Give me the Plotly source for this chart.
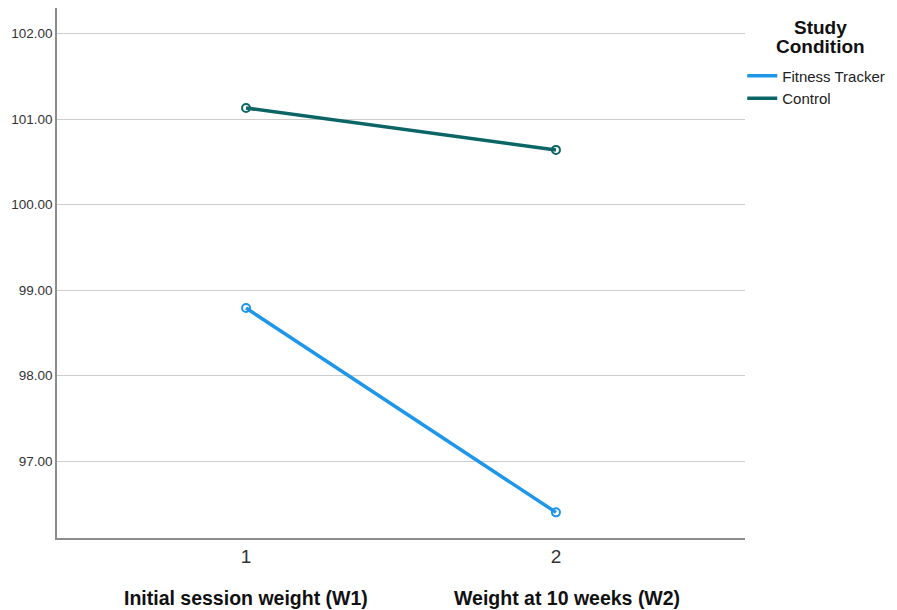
import plotly.graph_objects as go

time_points = [1, 2]
time_labels = ["Initial session weight (W1)", "Weight at 10 weeks (W2)"]
tick_labels = ["1", "2"]
fitness_tracker = [98.79, 96.40]
control = [101.13, 100.64]
y_ticks = [97, 98, 99, 100, 101, 102]
legend_title_lines = ["Study", "Condition"]

FONT = "Liberation Sans, Arial, sans-serif"
series = [("Fitness Tracker", fitness_tracker, "#1e96ea"),
          ("Control", control, "#0b6566")]

fig = go.Figure()
for name, vals, col in series:
    fig.add_trace(go.Scatter(
        x=time_points, y=vals, name=name, mode="lines",
        line=dict(color=col, width=3.5), legendgroup=name,
    ))
for name, vals, col in series:
    fig.add_trace(go.Scatter(
        x=time_points, y=vals, name=name, mode="markers", showlegend=False,
        legendgroup=name,
        marker=dict(symbol="circle-open", size=8, color=col, line=dict(width=2)),
    ))

fig.update_layout(
    width=889, height=602,
    margin=dict(l=49, r=152, t=0, b=72),
    plot_bgcolor="white", paper_bgcolor="white",
    font=dict(family=FONT, color="#222"),
    showlegend=True,
    legend=dict(x=0.996, xanchor="left", y=0.903, yanchor="top",
                font=dict(size=15, color="#222"), itemwidth=30,
                tracegroupgap=0, bgcolor="rgba(0,0,0,0)"),
    xaxis=dict(range=[0.39, 2.61], tickvals=time_points, ticktext=tick_labels,
               showgrid=False, zeroline=False, showline=True, linecolor="#8c8c8c",
               linewidth=1.5, ticks="", tickfont=dict(size=19, color="#333")),
    yaxis=dict(range=[96.10, 102.30], tickvals=y_ticks, tickformat=".2f",
               showgrid=True, gridcolor="#cccccc", gridwidth=1.2, zeroline=False,
               showline=True, linecolor="#8c8c8c", linewidth=1.5, ticks="",
               tickfont=dict(size=13.5, color="#333")),
)

for i, line in enumerate(legend_title_lines):
    fig.add_annotation(x=1.110, xref="paper", y=1.0, yref="paper", xanchor="center",
                       yanchor="middle", yshift=-19 - 19.5 * i, text="<b>" + line + "</b>",
                       showarrow=False,
                       font=dict(size=19, color="#111", family=FONT))
for i, (xv, lab) in enumerate(zip(time_points, time_labels)):
    fig.add_annotation(x=xv, xref="x", y=-0.113, yref="paper", text="<b>" + lab + "</b>",
                       showarrow=False, font=dict(size=19.5, color="#111", family=FONT),
                       xanchor="center", yanchor="middle", xshift=11 * i)

fig.write_html("out.html")
